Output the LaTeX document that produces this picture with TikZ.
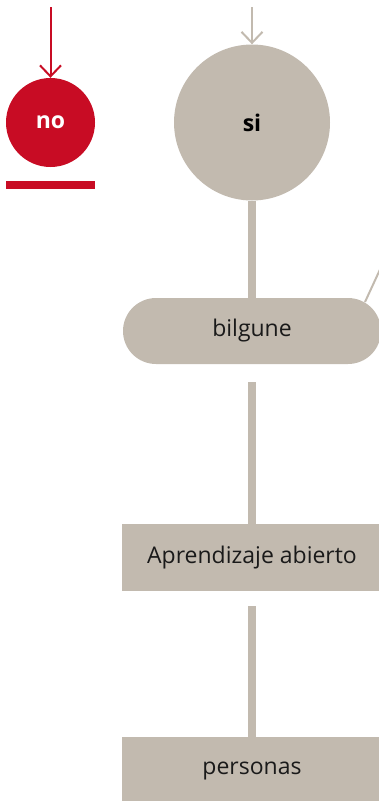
\documentclass[tikz,border=0pt]{standalone}
\usepackage{fontspec}
\setmainfont{Open Sans}
\usetikzlibrary{arrows.meta}
\definecolor{rojo}{RGB}{200,12,36}
\definecolor{gris}{RGB}{194,186,175}
\definecolor{tinta}{RGB}{26,26,26}
\begin{document}
\begin{tikzpicture}[x=1pt,y=-1pt,
  lbl/.style={font=\fontsize{23}{27}\selectfont, text=tinta},
  blbl/.style={font=\fontsize{23}{27}\selectfont\bfseries},
  boxnode/.style={fill=gris, inner sep=0pt, minimum width=260pt, minimum height=67pt, lbl},
  thick conn/.style={draw=gris, line width=8pt},
  inarrow/.style={line width=2pt, -{Straight Barb[length=11pt,width=21pt,line width=2pt]}}]
\useasboundingbox (0,0) rectangle (379,801);
% red branch
\node[circle, fill=rojo, minimum size=89pt, inner sep=0pt, blbl, text=white] (no) at (50.5,122.5) {no};
\node[fill=rojo, minimum width=89pt, minimum height=8pt, inner sep=0pt] (bar) at (50.5,185) {};
\coordinate (noin) at (50.5,7);
\draw[rojo, inarrow] (noin) -- (no);
% grey branch
\node[circle, fill=gris, minimum size=156pt, inner sep=0pt, blbl, text=black] (si) at (252,122.5) {si};
\coordinate (siin) at (252,7);
\draw[gris, inarrow] (siin) -- (si);
\node[fill=gris, rounded corners=33pt, minimum width=258pt, minimum height=66pt, inner sep=0pt, lbl] (bil) at (252,331) {bilgune};
\node[boxnode] (apr) at (252,557.5) {Aprendizaje abierto};
\node[boxnode] (per) at (252,770.5) {personas};
\draw[thick conn] (si) -- (bil);
\draw[thick conn, shorten <=18pt] (bil) -- (apr);
\draw[thick conn, shorten <=15pt] (apr) -- (per);
% thin diagonal leaving to the right
\coordinate (diagA) at (383,263);
\coordinate (diagB) at (365,302);
\draw[gris, line width=2pt] (diagA) -- (diagB);
\end{tikzpicture}
\end{document}
